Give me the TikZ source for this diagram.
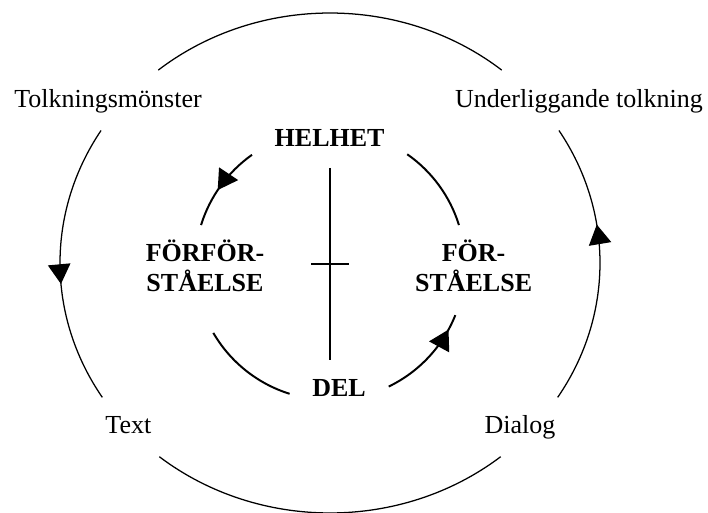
\documentclass[tikz,border=0pt]{standalone}
\usepackage{fontspec}
\setmainfont{Liberation Serif}
\usepackage{tikz}
\usetikzlibrary{arrows.meta,decorations.markings,calc}

\begin{document}
\begin{tikzpicture}[
  lab/.style={font=\fontsize{18.5}{21.5}\selectfont, inner sep=0pt},
  key/.style={lab, font=\fontsize{18.5}{21.5}\selectfont\bfseries, align=center},
  ring/.style={line width=0.9pt},
  loop/.style={line width=1.4pt},
  midtip/.style={postaction={decorate, decoration={markings,
      mark=at position #1 with {\arrow{Triangle[length=14pt,width=16pt]}}}}}]
\useasboundingbox (-8.25,-6.25) rectangle (9.45,6.575);
% outer ring
\node[lab, anchor=base] (tolk) at (-5.55,3.875) {Tolkningsmönster};
\node[lab, anchor=base] (underl) at (6.225,3.875) {Underliggande tolkning};
\node[lab, anchor=base] (text) at (-5.04,-4.25) {Text};
\node[lab, anchor=base] (dialog) at (4.75,-4.25) {Dialog};
\coordinate (o1) at (50.5:6.75 and 6.25);
\coordinate (o2) at (148:6.75 and 6.25);
\coordinate (o3) at (230.8:6.75 and 6.25);
\coordinate (o4) at (-32.5:6.75 and 6.25);
\draw[ring] (o1) arc[start angle=50.5, end angle=129.5, x radius=6.75, y radius=6.25];
\draw[ring, midtip=0.57] (o2) arc[start angle=148, end angle=212.5, x radius=6.75, y radius=6.25];
\draw[ring] (o3) arc[start angle=230.8, end angle=309.2, x radius=6.75, y radius=6.25];
\draw[ring, midtip=0.64] (o4) arc[start angle=-32.5, end angle=32, x radius=6.75, y radius=6.25];
% inner ring
\node[key, anchor=base] (helhet) at (-0.01,2.9) {HELHET};
\node[key, anchor=base] (del) at (0.225,-3.35) {DEL};
\node[key] (forfor) at (-3.125,-0.075) {FÖRFÖR-\\STÅELSE};
\node[key] (forst) at (3.59,-0.075) {FÖR-\\STÅELSE};
\coordinate (c) at (0,-0.05);
\draw[loop, midtip=0.56] ($(c)+(125.3:3.375)$) arc[start angle=125.3, end angle=162.8, radius=3.375];
\draw[loop] ($(c)+(17.2:3.375)$) arc[start angle=17.2, end angle=55.1, radius=3.375];
\draw[loop] ($(c)+(210.2:3.375)$) arc[start angle=210.2, end angle=252.6, radius=3.375];
\draw[loop, midtip=0.84] ($(c)+(295.8:3.375)$) arc[start angle=295.8, end angle=338.2, radius=3.375];
% axis between whole and part
\coordinate (vtop) at (0,2.375);
\coordinate (vbot) at (0,-2.425);
\coordinate (vmid) at ($(vtop)!0.5!(vbot)$);
\draw[loop] (vtop) -- (vbot);
\draw[loop] ($(vmid)+(-0.475,0)$) -- ($(vmid)+(0.475,0)$);
\end{tikzpicture}
\end{document}
